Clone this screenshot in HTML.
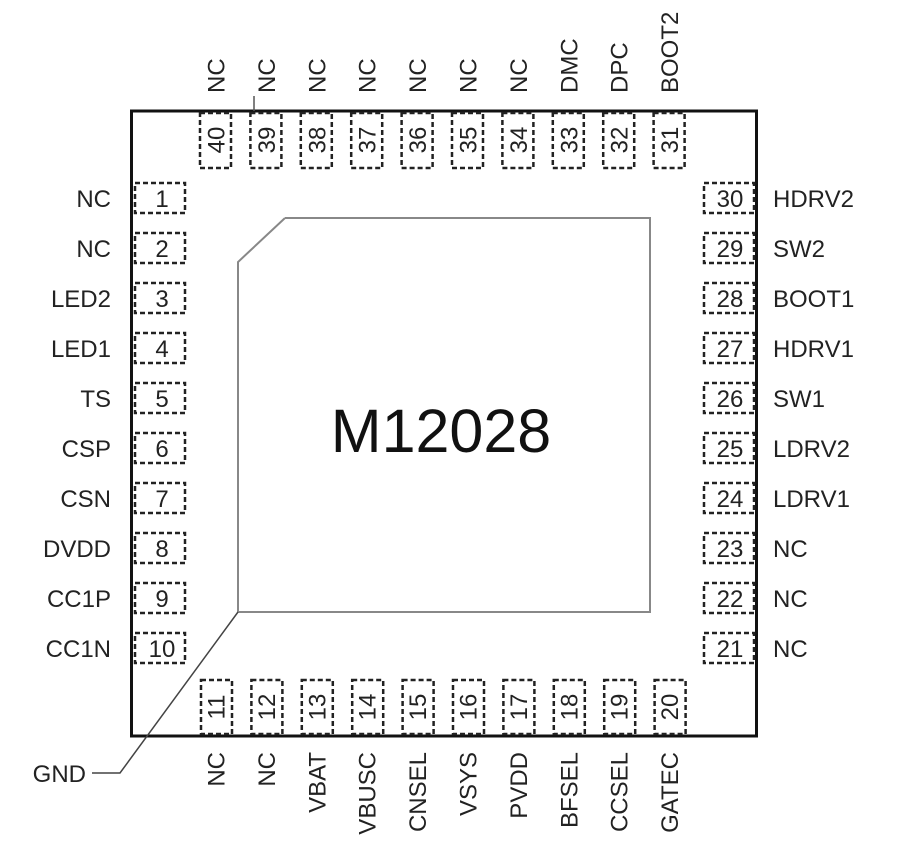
<!DOCTYPE html>
<html><head><style>body{margin:0;background:#fff}</style></head><body>
<svg width="899" height="850" xmlns="http://www.w3.org/2000/svg" font-family="Liberation Sans, Arial, sans-serif" fill="#222">
<rect x="131.5" y="111" width="625" height="625" fill="none" stroke="#111" stroke-width="3"/>
<polyline points="285,218 650,218 650,612 238,612 238,262 285,218" fill="none" stroke="#888" stroke-width="2"/>
<polyline points="238,612 120,773 92,773" fill="none" stroke="#444" stroke-width="1.5"/>
<text x="86" y="782" font-size="24" text-anchor="end">GND</text>
<line x1="254" y1="96" x2="254" y2="111" stroke="#555" stroke-width="1.5"/>
<text x="441" y="452" font-size="61" text-anchor="middle" fill="#111">M12028</text>
<g id="pads" fill="none" stroke="#222" stroke-width="2.5" stroke-dasharray="5,3">
</g>
<g font-size="24">
<g text-anchor="end">
<text x="111" y="207">NC</text><text x="111" y="257">NC</text><text x="111" y="307">LED2</text><text x="111" y="357">LED1</text><text x="111" y="407">TS</text><text x="111" y="457">CSP</text><text x="111" y="507">CSN</text><text x="111" y="557">DVDD</text><text x="111" y="607">CC1P</text><text x="111" y="657">CC1N</text>
</g>
<g>
<text x="773" y="207">HDRV2</text><text x="773" y="257">SW2</text><text x="773" y="307">BOOT1</text><text x="773" y="357">HDRV1</text><text x="773" y="407">SW1</text><text x="773" y="457">LDRV2</text><text x="773" y="507">LDRV1</text><text x="773" y="557">NC</text><text x="773" y="607">NC</text><text x="773" y="657">NC</text>
</g>
</g>
<g id="g2" font-size="24"></g>
<script>
(function(){
var ns="http://www.w3.org/2000/svg",pads=document.getElementById('pads'),g2=document.getElementById('g2');
function el(p,t,a,txt){var e=document.createElementNS(ns,t);for(var k in a)e.setAttribute(k,a[k]);if(txt)e.textContent=txt;p.appendChild(e);return e;}
for(var i=0;i<10;i++){var y=183+i*50;
 el(pads,'rect',{x:135,y:y,width:50,height:30});
 el(g2,'text',{x:162,y:y+24,'text-anchor':'middle'},String(i+1));
 el(pads,'rect',{x:704,y:y,width:50,height:30});
 el(g2,'text',{x:730,y:y+24,'text-anchor':'middle'},String(30-i));}
var topL=['NC','NC','NC','NC','NC','NC','NC','DMC','DPC','BOOT2'];
var botL=['NC','NC','VBAT','VBUSC','CNSEL','VSYS','PVDD','BFSEL','CCSEL','GATEC'];
for(var i=0;i<10;i++){var x=200+i*50.4;var cx=x+15.5;
 el(pads,'rect',{x:x,y:113,width:31,height:55});
 el(g2,'text',{transform:'translate('+(cx+9)+',140) rotate(-90)','text-anchor':'middle'},String(40-i));
 el(g2,'text',{transform:'translate('+(cx+9)+',93) rotate(-90)'},topL[i]);
 el(pads,'rect',{x:x+1,y:680,width:31,height:54});
 el(g2,'text',{transform:'translate('+(cx+9)+',707) rotate(-90)','text-anchor':'middle'},String(11+i));
 el(g2,'text',{transform:'translate('+(cx+9)+',752) rotate(-90)','text-anchor':'end'},botL[i]);}
})();
</script>
</svg>
</body></html>
